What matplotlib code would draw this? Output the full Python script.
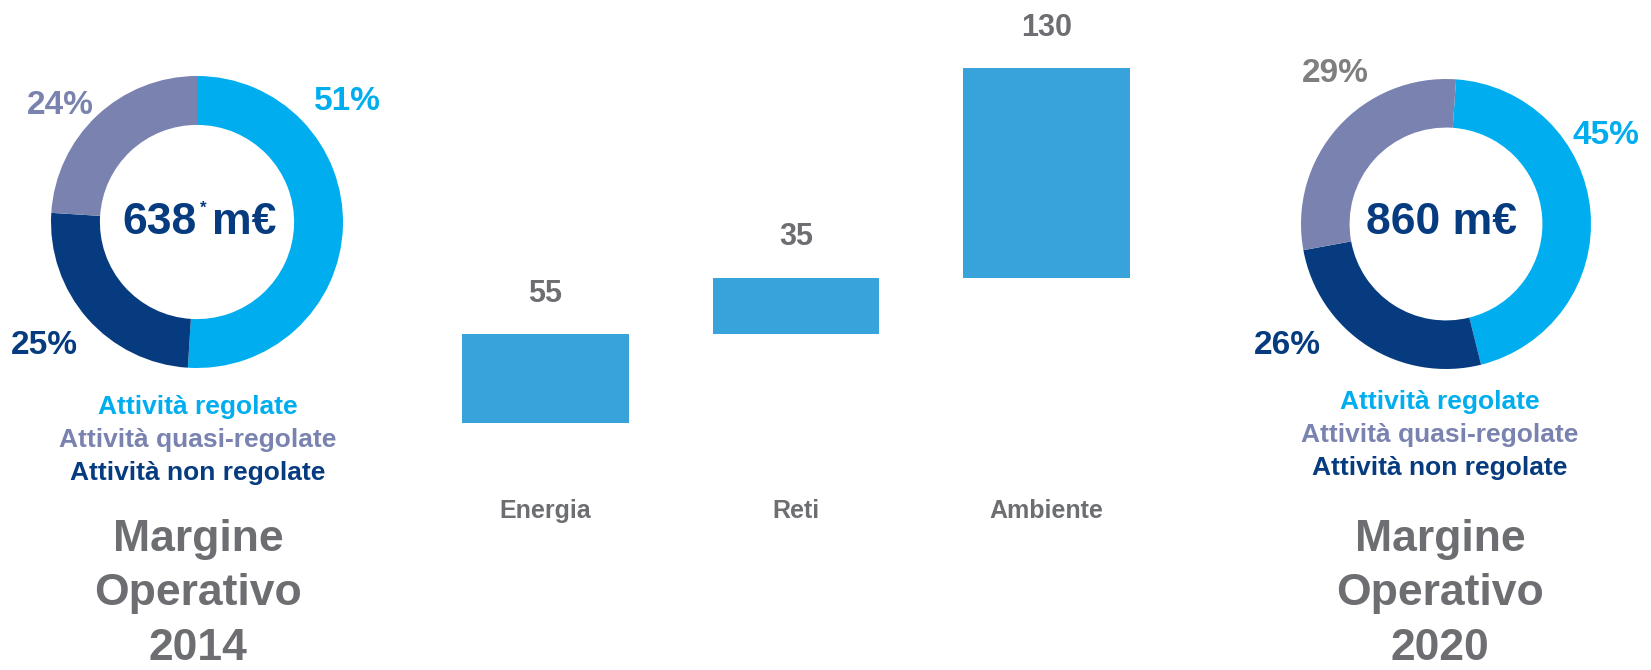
#!/usr/bin/env python3

import matplotlib

matplotlib.use("Agg")
import matplotlib.pyplot as plt

W, H = 1651, 670

# Donut data (share of operating margin)
segments = ["Attività regolate", "Attività non regolate", "Attività quasi-regolate"]
shares_2014 = [51, 25, 24]
shares_2020 = [45, 26, 29]
total_2014 = "638"
total_2020 = "860"

# Bridge data (m€)
bridge_labels = ["Energia", "Reti", "Ambiente"]
bridge_values = [55, 35, 130]

LIGHT = "#00aeef"
NAVY = "#063c7f"
LAVENDER = "#7a83b0"
GRAY = "#6d6e71"
BAR = "#38a2db"
seg_colors = [LIGHT, NAVY, LAVENDER]

plt.rcParams["font.family"] = ["Liberation Sans", "DejaVu Sans"]
plt.rcParams["font.weight"] = "bold"


def fpos(x, y):
    return x / W, 1 - y / H


def donut(fig, cx, cy, r, shares, start):
    ax = fig.add_axes([(cx - r) / W, (H - cy - r) / H, 2 * r / W, 2 * r / H])
    ax.pie(
        shares,
        colors=seg_colors,
        startangle=start,
        counterclock=False,
        radius=1,
        wedgeprops={"width": 0.335, "linewidth": 0},
    )
    ax.set_xlim(-1, 1)
    ax.set_ylim(-1, 1)
    ax.axis("off")
    return ax


def legend_and_title(fig, cx, y0, year):
    for i, (txt, col) in enumerate(
        [(segments[0], LIGHT), (segments[2], LAVENDER), (segments[1], NAVY)]
    ):
        fig.text(*fpos(cx, y0 + i * 33), txt, color=col, fontsize=19,
                 ha="center", va="center")
    for i, txt in enumerate(["Margine", "Operativo", year]):
        fig.text(*fpos(cx, 540 + i * 54), txt, color=GRAY, fontsize=32,
                 ha="center", va="center")


def main() -> None:
    fig = plt.figure(figsize=(W / 100, H / 100), dpi=100)

    # Left donut (2014)
    donut(fig, 197, 222, 146, shares_2014, 90)
    fig.text(*fpos(197, 222), total_2014, color=NAVY, fontsize=32,
             ha="right", va="center")
    fig.text(*fpos(203, 208), "*", color=NAVY, fontsize=12,
             ha="center", va="center")
    fig.text(*fpos(212, 222), "m€", color=NAVY, fontsize=32,
             ha="left", va="center")
    fig.text(*fpos(347, 102), f"{shares_2014[0]}%", color=LIGHT, fontsize=24,
             ha="center", va="center")
    fig.text(*fpos(60, 105), f"{shares_2014[2]}%", color=LAVENDER, fontsize=24,
             ha="center", va="center")
    fig.text(*fpos(44, 345), f"{shares_2014[1]}%", color=NAVY, fontsize=24,
             ha="center", va="center")
    legend_and_title(fig, 198, 407, "2014")

    # Right donut (2020)
    donut(fig, 1446, 224, 145, shares_2020, 86)
    fig.text(*fpos(1441, 222), f"{total_2020} m€", color=NAVY, fontsize=32,
             ha="center", va="center")
    fig.text(*fpos(1606, 135), f"{shares_2020[0]}%", color=LIGHT, fontsize=24,
             ha="center", va="center")
    fig.text(*fpos(1335, 74), f"{shares_2020[2]}%", color="#7f7f7f", fontsize=24,
             ha="center", va="center")
    fig.text(*fpos(1287, 345), f"{shares_2020[1]}%", color=NAVY, fontsize=24,
             ha="center", va="center")
    legend_and_title(fig, 1440, 402, "2020")

    # Bridge (floating bars)
    top_px, bot_px = 68, 423
    ax = fig.add_axes([420 / W, (H - bot_px) / H, 752 / W, (bot_px - top_px) / H])
    bottoms = [sum(bridge_values[:i]) for i in range(len(bridge_values))]
    xs = list(range(len(bridge_values)))
    ax.bar(xs, bridge_values, bottom=bottoms, width=0.666, color=BAR, linewidth=0)
    ax.set_xlim(-0.5, len(xs) - 0.5)
    ax.set_ylim(0, sum(bridge_values))
    for x, b, v, name in zip(xs, bottoms, bridge_values, bridge_labels):
        ax.annotate(str(v), (x, b + v), xytext=(0, 29), textcoords="offset points",
                    ha="center", va="center", color=GRAY, fontsize=22,
                    annotation_clip=False)
        ax.text(x, -0.248, name, transform=ax.get_xaxis_transform(),
                ha="center", va="center", color=GRAY, fontsize=18)
    ax.axis("off")

    fig.savefig("out.png", dpi=100)


if __name__ == "__main__":
    main()
